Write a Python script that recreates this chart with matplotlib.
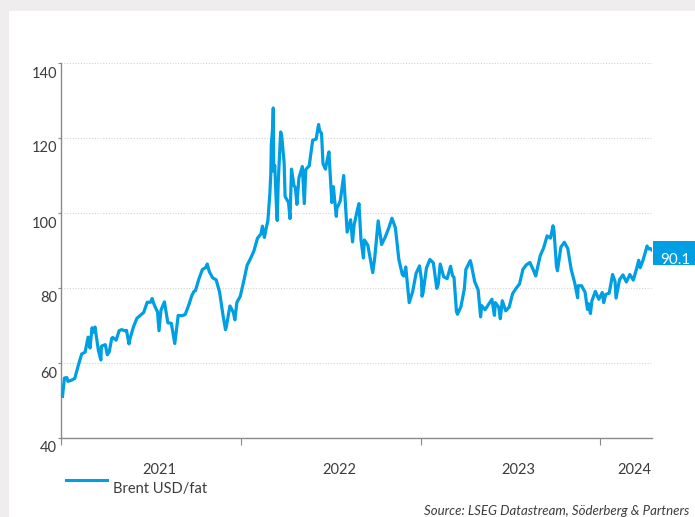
"""
Brent USD/fat, daily-ish closes Jan 2021 - Apr 2024
"""
import numpy as np
import pandas as pd
import matplotlib
matplotlib.use('Agg')
import matplotlib.pyplot as plt
from matplotlib.patches import Rectangle
from matplotlib.transforms import ScaledTranslation

## values (USD per barrel)
dates_2021 = ['2021-01-04', '2021-01-08', '2021-01-13', '2021-01-15', '2021-01-22', '2021-01-29',
              '2021-02-05', '2021-02-12', '2021-02-19', '2021-02-25', '2021-03-01', '2021-03-05',
              '2021-03-08', '2021-03-11', '2021-03-18', '2021-03-23', '2021-03-24', '2021-03-26',
              '2021-04-01', '2021-04-05', '2021-04-09', '2021-04-14', '2021-04-16', '2021-04-23',
              '2021-04-29', '2021-05-04', '2021-05-11', '2021-05-14', '2021-05-19', '2021-05-21',
              '2021-05-28', '2021-06-04', '2021-06-11', '2021-06-18', '2021-06-25', '2021-07-02',
              '2021-07-05', '2021-07-09', '2021-07-16', '2021-07-19', '2021-07-23', '2021-07-30',
              '2021-08-06', '2021-08-13', '2021-08-20', '2021-08-27', '2021-09-03', '2021-09-10',
              '2021-09-17', '2021-09-24', '2021-09-28', '2021-10-01', '2021-10-08', '2021-10-15',
              '2021-10-22', '2021-10-25', '2021-10-29', '2021-11-05', '2021-11-12', '2021-11-19',
              '2021-11-26', '2021-12-01', '2021-12-03', '2021-12-10', '2021-12-17', '2021-12-20',
              '2021-12-24', '2021-12-31']
brent_2021 = [51.1, 56.0, 56.1, 55.1, 55.4, 55.9,
              59.3, 62.4, 62.9, 66.9, 64.0, 69.4,
              68.2, 69.6, 63.3, 60.8, 64.4, 64.6,
              64.9, 62.2, 63.0, 66.6, 66.8, 66.1,
              68.6, 68.9, 68.6, 68.7, 65.1, 66.4,
              69.6, 71.9, 72.7, 73.5, 76.2, 76.2,
              77.2, 75.6, 73.6, 68.6, 74.1, 76.3,
              70.7, 70.6, 65.2, 72.7, 72.6, 72.9,
              75.3, 78.1, 79.1, 79.3, 82.4, 84.9,
              85.5, 86.4, 84.4, 82.7, 82.2, 78.9,
              72.7, 68.9, 69.9, 75.2, 73.5, 71.5,
              76.1, 77.8]

dates_2022 = ['2022-01-07', '2022-01-14', '2022-01-21', '2022-01-28', '2022-02-04', '2022-02-11',
              '2022-02-14', '2022-02-18', '2022-02-23', '2022-02-25', '2022-03-01', '2022-03-03',
              '2022-03-04', '2022-03-07', '2022-03-08', '2022-03-09', '2022-03-11', '2022-03-15',
              '2022-03-16', '2022-03-18', '2022-03-23', '2022-03-25', '2022-03-30', '2022-04-01',
              '2022-04-08', '2022-04-11', '2022-04-14', '2022-04-19', '2022-04-22', '2022-04-25',
              '2022-04-29', '2022-05-06', '2022-05-10', '2022-05-13', '2022-05-20', '2022-05-27',
              '2022-06-03', '2022-06-08', '2022-06-10', '2022-06-14', '2022-06-17', '2022-06-22',
              '2022-06-24', '2022-06-29', '2022-07-01', '2022-07-05', '2022-07-08', '2022-07-14',
              '2022-07-15', '2022-07-22', '2022-07-29', '2022-08-05', '2022-08-12', '2022-08-16',
              '2022-08-19', '2022-08-26', '2022-08-29', '2022-09-02', '2022-09-07', '2022-09-09',
              '2022-09-16', '2022-09-23', '2022-09-26', '2022-09-30', '2022-10-07', '2022-10-14',
              '2022-10-21', '2022-10-28', '2022-11-04', '2022-11-11', '2022-11-18', '2022-11-25',
              '2022-11-28', '2022-12-02', '2022-12-09', '2022-12-16', '2022-12-23', '2022-12-30']
brent_2022 = [81.8, 86.1, 87.9, 90.0, 93.3, 94.4,
              96.5, 93.5, 96.8, 97.9, 105.0, 110.5,
              118.1, 123.2, 128.0, 111.1, 112.7, 99.9,
              98.0, 107.9, 121.6, 120.7, 113.5, 104.4,
              102.8, 98.5, 111.7, 107.3, 106.7, 102.3,
              109.3, 112.4, 102.5, 111.6, 112.6, 119.4,
              119.7, 123.6, 122.0, 121.2, 113.1, 111.7,
              113.1, 116.3, 111.6, 102.8, 107.0, 99.1,
              101.2, 103.2, 110.0, 94.9, 98.2, 92.3,
              96.7, 101.0, 102.5, 93.0, 88.0, 92.8,
              91.4, 86.2, 84.1, 88.0, 97.9, 91.6,
              93.5, 95.8, 98.6, 96.0, 87.6, 83.6,
              83.2, 85.6, 76.1, 79.0, 83.9, 85.9]

dates_2023 = ['2023-01-03', '2023-01-04', '2023-01-06', '2023-01-13', '2023-01-20', '2023-01-27',
              '2023-02-03', '2023-02-06', '2023-02-10', '2023-02-17', '2023-02-24', '2023-03-03',
              '2023-03-07', '2023-03-10', '2023-03-15', '2023-03-17', '2023-03-24', '2023-03-31',
              '2023-04-03', '2023-04-12', '2023-04-14', '2023-04-21', '2023-04-28', '2023-05-03',
              '2023-05-05', '2023-05-12', '2023-05-19', '2023-05-26', '2023-05-31', '2023-06-02',
              '2023-06-09', '2023-06-12', '2023-06-16', '2023-06-23', '2023-06-30', '2023-07-07',
              '2023-07-14', '2023-07-21', '2023-07-28', '2023-08-04', '2023-08-11', '2023-08-18',
              '2023-08-23', '2023-08-25', '2023-09-01', '2023-09-08', '2023-09-15', '2023-09-22',
              '2023-09-27', '2023-09-29', '2023-10-04', '2023-10-06', '2023-10-13', '2023-10-20',
              '2023-10-27', '2023-11-03', '2023-11-10', '2023-11-16', '2023-11-17', '2023-11-24',
              '2023-12-01', '2023-12-06', '2023-12-08', '2023-12-12', '2023-12-15', '2023-12-22',
              '2023-12-29']
brent_2023 = [82.1, 77.8, 78.6, 85.3, 87.6, 86.7,
              79.9, 81.0, 86.4, 83.0, 82.5, 85.8,
              83.3, 82.8, 73.7, 73.0, 75.0, 79.8,
              84.9, 87.3, 86.3, 81.7, 79.5, 72.3,
              75.3, 74.2, 75.6, 77.0, 72.7, 76.1,
              74.8, 71.8, 76.6, 73.9, 74.9, 78.5,
              79.9, 81.1, 85.0, 86.2, 86.8, 84.8,
              83.2, 84.5, 88.6, 90.7, 93.9, 93.3,
              96.6, 95.3, 85.8, 84.6, 90.9, 92.2,
              90.5, 84.9, 81.4, 77.4, 80.6, 80.6,
              78.9, 74.3, 75.8, 73.2, 76.6, 79.1,
              77.0]

dates_2024 = ['2024-01-03', '2024-01-05', '2024-01-08', '2024-01-12', '2024-01-19', '2024-01-26',
              '2024-01-31', '2024-02-02', '2024-02-09', '2024-02-16', '2024-02-23', '2024-03-01',
              '2024-03-08', '2024-03-15', '2024-03-19', '2024-03-22', '2024-03-28', '2024-04-05',
              '2024-04-08', '2024-04-10', '2024-04-12', '2024-04-15']
brent_2024 = [78.3, 78.8, 76.1, 78.3, 78.6, 83.6,
              81.7, 77.3, 82.2, 83.5, 81.6, 83.6,
              82.1, 85.3, 87.4, 85.4, 87.5, 91.2,
              90.4, 90.5, 90.5, 90.1]

yticks = [40, 60, 80, 100, 120, 140]
year_labels = ['2021', '2022', '2023', '2024']
series_name = 'Brent USD/fat'
source_text = 'Source: LSEG Datastream, Söderberg & Partners'
last_value = '90.1'

dates = pd.to_datetime(dates_2021 + dates_2022 + dates_2023 + dates_2024)
brent = np.array(brent_2021 + brent_2022 + brent_2023 + brent_2024)

blue = '#009FE3'
grey_txt = '#3c3c3c'
plt.rcParams['font.family'] = ['Lato', 'DejaVu Sans']

fig = plt.figure(figsize=(6.95, 5.17), dpi=100, facecolor='#efeded')
W, H = 695, 517
fig.patches.append(Rectangle((9 / W, 0), 1, (H - 11) / H, transform=fig.transFigure,
                             facecolor='white', edgecolor='none', zorder=-5))

ax = fig.add_axes([61 / W, 79 / H, 591 / W, 375 / H])
ax.set_facecolor('none')
ax.plot(dates, brent, color=blue, linewidth=2.3, solid_joinstyle='round', zorder=3)

x0 = pd.Timestamp('2021-01-01')
x1 = dates[-1]
ax.set_xlim(x0, x1)
ax.set_ylim(40, 140)

for s in ['top', 'right']:
    ax.spines[s].set_visible(False)
for s in ['left', 'bottom']:
    ax.spines[s].set_color('#8a8a8a')
    ax.spines[s].set_linewidth(1.0)

ax.set_yticks(yticks)
ax.yaxis.grid(True, color='#d4d4d4', linestyle=(0, (1, 1.5)), linewidth=0.8)
ax.tick_params(axis='y', length=2, width=0.8, color='#8a8a8a', pad=1,
               labelsize=10.5, labelcolor=grey_txt)
# labels sit a bit below their gridline
shift = ScaledTranslation(0, -9 / 100, fig.dpi_scale_trans)
for lab in ax.get_yticklabels():
    lab.set_transform(lab.get_transform() + shift)

# major ticks at year starts, labels as minor ticks mid-span
year_starts = pd.to_datetime(['2021-01-01', '2022-01-01', '2023-01-01', '2024-01-01'])
ax.set_xticks(year_starts)
ax.set_xticklabels([])
ax.tick_params(axis='x', which='major', length=5, width=0.8, color='#8a8a8a')
ends = list(year_starts[1:]) + [x1]
label_pos = [a + (b - a) / 2 + pd.Timedelta(days=17) for a, b in zip(year_starts, ends)]
ax.set_xticks(label_pos, minor=True)
ax.set_xticklabels(year_labels, minor=True)
ax.tick_params(axis='x', which='minor', length=0, pad=18, labelsize=10.5, labelcolor=grey_txt)

# last value tag
fig.patches.append(Rectangle((653 / W, (H - 265) / H), 50 / W, 24 / H, transform=fig.transFigure,
                             facecolor=blue, edgecolor='none', zorder=5))
fig.text(660 / W, (H - 264) / H, last_value, color='white', fontsize=11,
         ha='left', va='baseline', zorder=6)

# legend
fig.add_artist(plt.Line2D([66 / W, 107 / W], [(H - 480) / H, (H - 480) / H],
                          color=blue, linewidth=2.2, transform=fig.transFigure))
fig.text(113 / W, (H - 489) / H, series_name, color=grey_txt, fontsize=10.5,
         ha='left', va='center')

fig.text(689 / W, (H - 505) / H, source_text, color=grey_txt, fontsize=9.5,
         style='italic', ha='right', va='top')

plt.savefig('out.png', dpi=100, facecolor=fig.get_facecolor())
